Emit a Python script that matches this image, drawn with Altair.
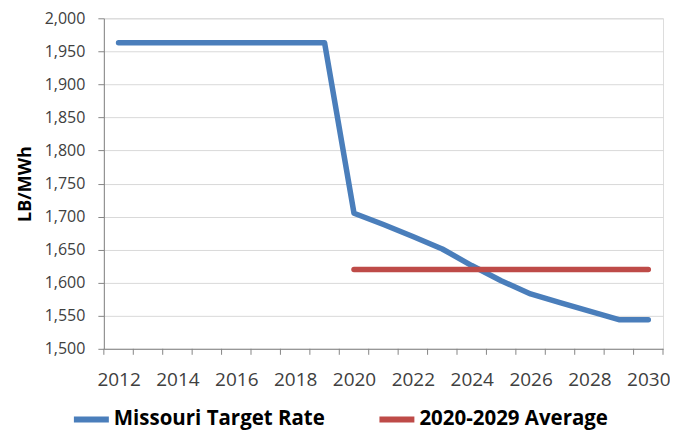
import altair as alt
import pandas as pd

years = list(range(2012, 2031))
target_rate = [1963, 1963, 1963, 1963, 1963, 1963, 1963, 1963,
               1705, 1688, 1670, 1651, 1626, 1603, 1583, 1570, 1557, 1544, 1544]
avg_years = list(range(2020, 2031))
avg_value = 1620
series_names = ["Missouri Target Rate", "2020-2029 Average"]
colors = ["#4A7EBB", "#BE4B48"]
x_label_years = list(range(2012, 2031, 2))
y_ticks = list(range(1500, 2001, 50))

rows = [{"year": y, "value": v, "series": series_names[0]} for y, v in zip(years, target_rate)]
rows += [{"year": y, "value": avg_value, "series": series_names[1]} for y in avg_years]
df = pd.DataFrame(rows)

bounds = pd.DataFrame({"b": [y - 0.5 for y in years] + [years[-1] + 0.5]})

FONT = "Open Sans"
W, H = 560, 331

xscale = alt.Scale(domain=[years[0] - 0.5, years[-1] + 0.5], nice=False, zero=False)
yscale = alt.Scale(domain=[1500, 2000], nice=False, zero=False)

lines = alt.Chart(df).mark_line(strokeWidth=5.5, strokeCap="round", strokeJoin="round").encode(
    x=alt.X("year:Q", scale=xscale,
            axis=alt.Axis(values=x_label_years, format="d", ticks=False, grid=False,
                          labelFontSize=19, labelColor="#404040", labelFont=FONT,
                          labelPadding=22, domainColor="#868686", title=None)),
    y=alt.Y("value:Q", scale=yscale,
            axis=alt.Axis(values=y_ticks, format=",d", grid=True, gridColor="#D9D9D9",
                          tickColor="#868686", tickSize=6, domainColor="#868686",
                          labelFontSize=16, labelColor="#404040", labelFont=FONT,
                          labelPadding=13, title="LB/MWh", titleFontSize=18,
                          titleFont=FONT, titleFontWeight="bold", titleColor="#000000",
                          titlePadding=10)),
    color=alt.Color("series:N", sort=series_names,
                    scale=alt.Scale(domain=series_names, range=colors),
                    legend=alt.Legend(title=None, orient="none", direction="horizontal",
                                      legendX=-33, legendY=381,
                                      symbolType="stroke", symbolSize=1225,
                                      symbolStrokeWidth=6, labelFontSize=20.5,
                                      labelFont=FONT, labelFontWeight="bold",
                                      labelColor="#000000", labelOffset=2,
                                      columnPadding=42, labelLimit=400)),
    detail="series:N",
)

ticks = alt.Chart(bounds).mark_rule(color="#868686", strokeWidth=1).encode(
    x=alt.X("b:Q", scale=xscale),
    y=alt.value(H),
    y2=alt.value(H + 6),
)

chart = alt.layer(ticks, lines).properties(
    width=W, height=H,
    padding={"left": 8, "top": 2, "right": 0, "bottom": 2},
).configure_view(stroke=None).configure(background="white")

chart.save("out.html", embed_options={"renderer": "svg", "actions": False})
